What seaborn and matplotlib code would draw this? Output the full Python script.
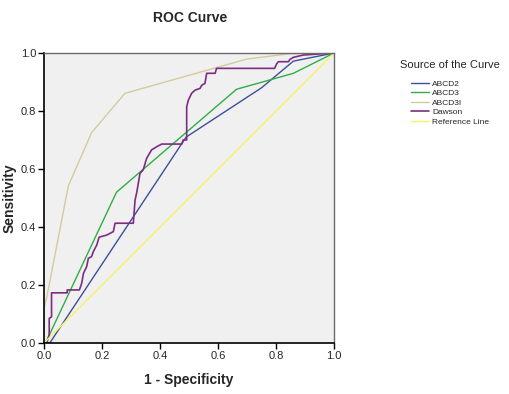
import matplotlib
matplotlib.use("Agg")
from matplotlib import pyplot as plt
import seaborn as sns

# ROC curve points (1 - specificity, sensitivity)
abcd2_x = [0.0, 0.02, 0.49, 0.75, 0.86, 1.0]
abcd2_y = [0.0, 0.0, 0.71, 0.88, 0.972, 1.0]

abcd3_x = [0.0, 0.01, 0.25, 0.664, 0.86, 1.0]
abcd3_y = [0.0, 0.01, 0.52, 0.875, 0.93, 1.0]

abcd3i_x = [0.0, 0.0, 0.01, 0.084, 0.164, 0.279, 0.699, 0.85, 1.0]
abcd3i_y = [0.0, 0.12, 0.16, 0.542, 0.725, 0.861, 0.979, 0.998, 1.0]

dawson_x = [0.0, 0.01, 0.018, 0.018, 0.026, 0.026, 0.08, 0.08, 0.122, 0.13, 0.136,
            0.147, 0.153, 0.164, 0.17, 0.182, 0.19, 0.216, 0.239, 0.245, 0.308,
            0.314, 0.32, 0.331, 0.342, 0.354, 0.371, 0.389, 0.406, 0.475, 0.48,
            0.492, 0.492, 0.498, 0.509, 0.521, 0.538, 0.544, 0.555, 0.561, 0.59,
            0.595, 0.795, 0.802, 0.808, 0.843, 0.848, 0.86, 0.894, 1.0]
dawson_y = [0.0, 0.0, 0.03, 0.085, 0.09, 0.173, 0.173, 0.183, 0.183, 0.206, 0.24,
            0.263, 0.292, 0.298, 0.315, 0.338, 0.365, 0.372, 0.384, 0.413, 0.413,
            0.493, 0.52, 0.585, 0.597, 0.637, 0.666, 0.677, 0.686, 0.686, 0.70,
            0.70, 0.815, 0.838, 0.861, 0.872, 0.878, 0.889, 0.895, 0.93, 0.93,
            0.947, 0.947, 0.962, 0.970, 0.970, 0.978, 0.985, 0.993, 1.0]

ref_x = [0.0, 1.0]
ref_y = [0.0, 1.0]

series = [
    ("ABCD2", abcd2_x, abcd2_y, "#3d4f9c", 1.0),
    ("ABCD3", abcd3_x, abcd3_y, "#2fae45", 1.0),
    ("ABCD3I", abcd3i_x, abcd3i_y, "#d2cc9c", 1.0),
    ("Dawson", dawson_x, dawson_y, "#7d2d80", 1.2),
    ("Reference Line", ref_x, ref_y, "#f7f26a", 1.0),
]

sns.set_style("white")
plt.rcParams["font.family"] = ["Liberation Sans", "DejaVu Sans"]

fig = plt.figure(figsize=(5.1, 3.94), dpi=100)
ax = fig.add_axes([44 / 510, 51 / 394, 290 / 510, 290 / 394])
ax.set_facecolor("#f0f0f0")

for name, xs, ys, col, lw in series:
    sns.lineplot(x=xs, y=ys, sort=False, estimator=None, color=col,
                 linewidth=lw, label=name, ax=ax)

ax.set_xlim(0, 1)
ax.set_ylim(0, 1)
ticks = [0.0, 0.2, 0.4, 0.6, 0.8, 1.0]
ax.set_xticks(ticks)
ax.set_yticks(ticks)
ax.set_xticklabels([f"{t:.1f}" for t in ticks], fontsize=8)
ax.set_yticklabels([f"{t:.1f}" for t in ticks], fontsize=8)
ax.tick_params(direction="out", length=4, width=1, color="black", pad=1.5)
ax.tick_params(axis="x", bottom=True)
ax.tick_params(axis="y", left=True)

for side in ["left", "bottom"]:
    ax.spines[side].set_color("black")
    ax.spines[side].set_linewidth(1.2)
for side in ["top", "right"]:
    ax.spines[side].set_color("#6a6a6a")
    ax.spines[side].set_linewidth(1.0)

ax.set_xlabel("1 - Specificity", fontsize=10, fontweight="bold", labelpad=9)
ax.set_ylabel("Sensitivity", fontsize=10, fontweight="bold", labelpad=3)
fig.text(190 / 510, 1 - 18 / 394, "ROC Curve", fontsize=10, fontweight="bold",
         ha="center", va="center")

ax.legend_.remove()
handles, labels = ax.get_legend_handles_labels()
leg = fig.legend(handles, labels, title="Source of the Curve",
                 loc="upper center", bbox_to_anchor=(450 / 510, 1 - 60 / 394),
                 frameon=False, fontsize=6, title_fontsize=8,
                 handlelength=2.2, handletextpad=0.3, labelspacing=0.2,
                 borderpad=0, borderaxespad=0)
leg._legend_box.sep = 7

fig.savefig("out.png", dpi=100)
